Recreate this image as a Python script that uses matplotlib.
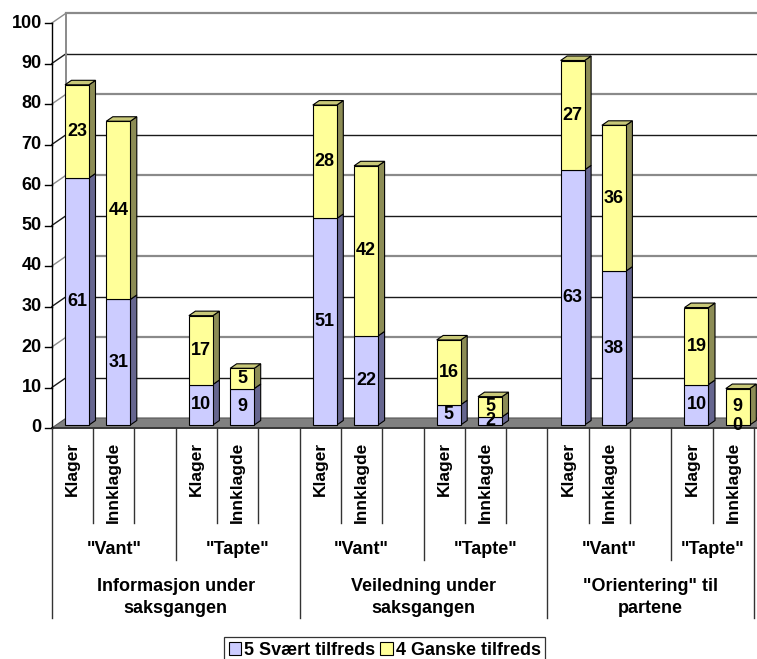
import matplotlib
matplotlib.use("Agg")
import matplotlib.pyplot as plt
from matplotlib.patches import Polygon, Patch

plt.rcParams['font.family'] = ['Liberation Sans', 'DejaVu Sans']
plt.rcParams['font.weight'] = 'bold'

# ---- data -------------------------------------------------------------
groups = ["Informasjon under\nsaksgangen", "Veiledning under\nsaksgangen",
          "\"Orientering\" til\npartene"]
outcomes = ['"Vant"', '"Tapte"']
parties = ["Klager", "Innklagde"]
# order: group -> outcome -> party
svaert = [61, 31, 10, 9, 51, 22, 5, 2, 63, 38, 10, 0]
ganske = [23, 44, 17, 5, 28, 42, 16, 5, 27, 36, 19, 9]
series_names = ["5 Svært tilfreds", "4 Ganske tilfreds"]
yticks = list(range(0, 101, 10))

# ---- colours ----------------------------------------------------------
C_FRONT = ["#CCCCFF", "#FFFF99"]
C_TOP = ["#A6A6D0", "#C8C878"]
C_SIDE = ["#66668F", "#8C8C55"]
FLOOR = "#808080"

# ---- layout (pixels) --------------------------------------------------
W, H = 757, 659
SLOT_PX, VAL_PX = 41.3, 4.05
X0_PX, Y0_PX = 51.85, 428
N_SLOTS = 17
XMAX = 17.4

fig = plt.figure(figsize=(W / 100, H / 100), dpi=100)
ax = fig.add_axes([X0_PX / W, (H - Y0_PX) / H, XMAX * SLOT_PX / W, 100 * VAL_PX / H])
ax.set_xlim(0, XMAX)
ax.set_ylim(0, 100)
ax.axis('off')


def dx(p):
    return p / SLOT_PX


def dy(p):
    return p / VAL_PX


# depth offsets: wall depth and bar placement within it
WX, WY = dx(14.5), dy(10)
BFX, BFY = dx(4.5), dy(3)
BDX, BDY = dx(6.5), dy(4.5)
BAR_W = dx(24)

# ---- back wall gridlines, left wall --------------------------------
for v in yticks:
    dark = (v // 10) % 2 == 1
    col = "#1a1a1a" if dark else "#8a8a8a"
    lw = 1.0 if dark else 1.6
    if v > 0:
        ax.plot([WX, XMAX + 1], [v + WY, v + WY], color=col, lw=lw, clip_on=False, zorder=1)
        ax.plot([0, WX], [v, v + WY], color=col, lw=1.0, clip_on=False, zorder=1)
    # tick mark and label
    ax.plot([-dx(7), 0], [v, v], color="black", lw=1.0, clip_on=False, zorder=3)
    ax.text(-dx(10), v, str(v), ha='right', va='center', fontsize=13,
            fontweight='bold', clip_on=False)
ax.plot([WX, WX], [WY, 100 + WY], color="#8a8a8a", lw=1.4, clip_on=False, zorder=1)
ax.plot([0, 0], [0, 100], color="black", lw=1.0, clip_on=False, zorder=3)

# floor
ax.add_patch(Polygon([(0, 0), (XMAX + 1, 0), (XMAX + 1 + WX, WY), (WX, WY)],
                     closed=True, facecolor=FLOOR, edgecolor="#555555", lw=0.8,
                     clip_on=False, zorder=2))
ax.plot([0, XMAX + 1], [0, 0], color="#333333", lw=1.3, clip_on=False, zorder=2)

# ---- bars --------------------------------------------------------------
slots = []
for g in range(len(groups)):
    for o in range(len(outcomes)):
        for p in range(len(parties)):
            slots.append(g * 6 + o * 3 + p)


def draw_box(x0, y0, y1, si, top):
    x1 = x0 + BAR_W
    kw = dict(closed=True, edgecolor="black", lw=0.8, clip_on=False, zorder=4)
    ax.add_patch(Polygon([(x1, y0), (x1 + BDX, y0 + BDY), (x1 + BDX, y1 + BDY), (x1, y1)],
                         facecolor=C_SIDE[si], **kw))
    if top:
        ax.add_patch(Polygon([(x0, y1), (x0 + BDX, y1 + BDY), (x1 + BDX, y1 + BDY), (x1, y1)],
                             facecolor=C_TOP[si], **kw))
    ax.add_patch(Polygon([(x0, y0), (x1, y0), (x1, y1), (x0, y1)],
                         facecolor=C_FRONT[si], **kw))


for s, a, b in zip(slots, svaert, ganske):
    x0 = s + 0.5 - BAR_W / 2 + BFX
    base = BFY
    if a > 0:
        draw_box(x0, base, base + a, 0, b == 0)
    if b > 0:
        draw_box(x0, base + a, base + a + b, 1, True)

for s, a, b in zip(slots, svaert, ganske):
    xc = s + 0.5 + BFX
    ax.text(xc, BFY + a / 2, str(a), ha='center', va='center', fontsize=13,
            fontweight='bold', zorder=6, clip_on=False)
    ax.text(xc, BFY + a + b / 2, str(b), ha='center', va='center', fontsize=13,
            fontweight='bold', zorder=6, clip_on=False)

# ---- multi-level category axis ---------------------------------------
LINE_KW = dict(color="#333333", lw=1.0, clip_on=False, zorder=3)
y1 = -dy(523 - Y0_PX)
y2 = -dy(560 - Y0_PX)
y3 = -dy(618 - Y0_PX)

for s in slots:
    name = parties[s % 3]
    ax.text(s + 0.5, -dy(14), name, rotation=90, ha='center', va='top',
            fontsize=12.5, fontweight='bold', clip_on=False)

for b in [1, 2, 4, 5, 7, 8, 10, 11, 13, 14, 16]:
    ax.plot([b, b], [0, y1], **LINE_KW)
for b in [3, 9, 15]:
    ax.plot([b, b], [0, y2], **LINE_KW)
for b in [0, 6, 12, N_SLOTS]:
    ax.plot([b, b], [0, y3], **LINE_KW)

for g in range(len(groups)):
    for o in range(len(outcomes)):
        start = g * 6 + o * 3
        end = min(start + 3, N_SLOTS)
        ax.text((start + end) / 2, -dy(550 - Y0_PX), outcomes[o], ha='center',
                va='center', fontsize=13, fontweight='bold', clip_on=False)
    start, end = g * 6, min(g * 6 + 6, N_SLOTS)
    ax.text((start + end) / 2, -dy(597.5 - Y0_PX), groups[g], ha='center', va='center',
            fontsize=13, fontweight='bold', linespacing=1.35, clip_on=False)

# ---- legend ------------------------------------------------------------
handles = [Patch(facecolor=C_FRONT[i], edgecolor="black", lw=0.8) for i in range(2)]
leg = fig.legend(handles, series_names, loc='upper left',
                 bbox_to_anchor=(224 / W, 1 - 637 / H), ncol=2,
                 prop=dict(weight='bold', size=13), frameon=True, fancybox=False,
                 edgecolor="black", handlelength=0.7, handleheight=0.7,
                 handletextpad=0.15, columnspacing=0.3, borderpad=0.25,
                 borderaxespad=0)
leg.get_frame().set_linewidth(0.9)

fig.savefig("out.png", dpi=100)
